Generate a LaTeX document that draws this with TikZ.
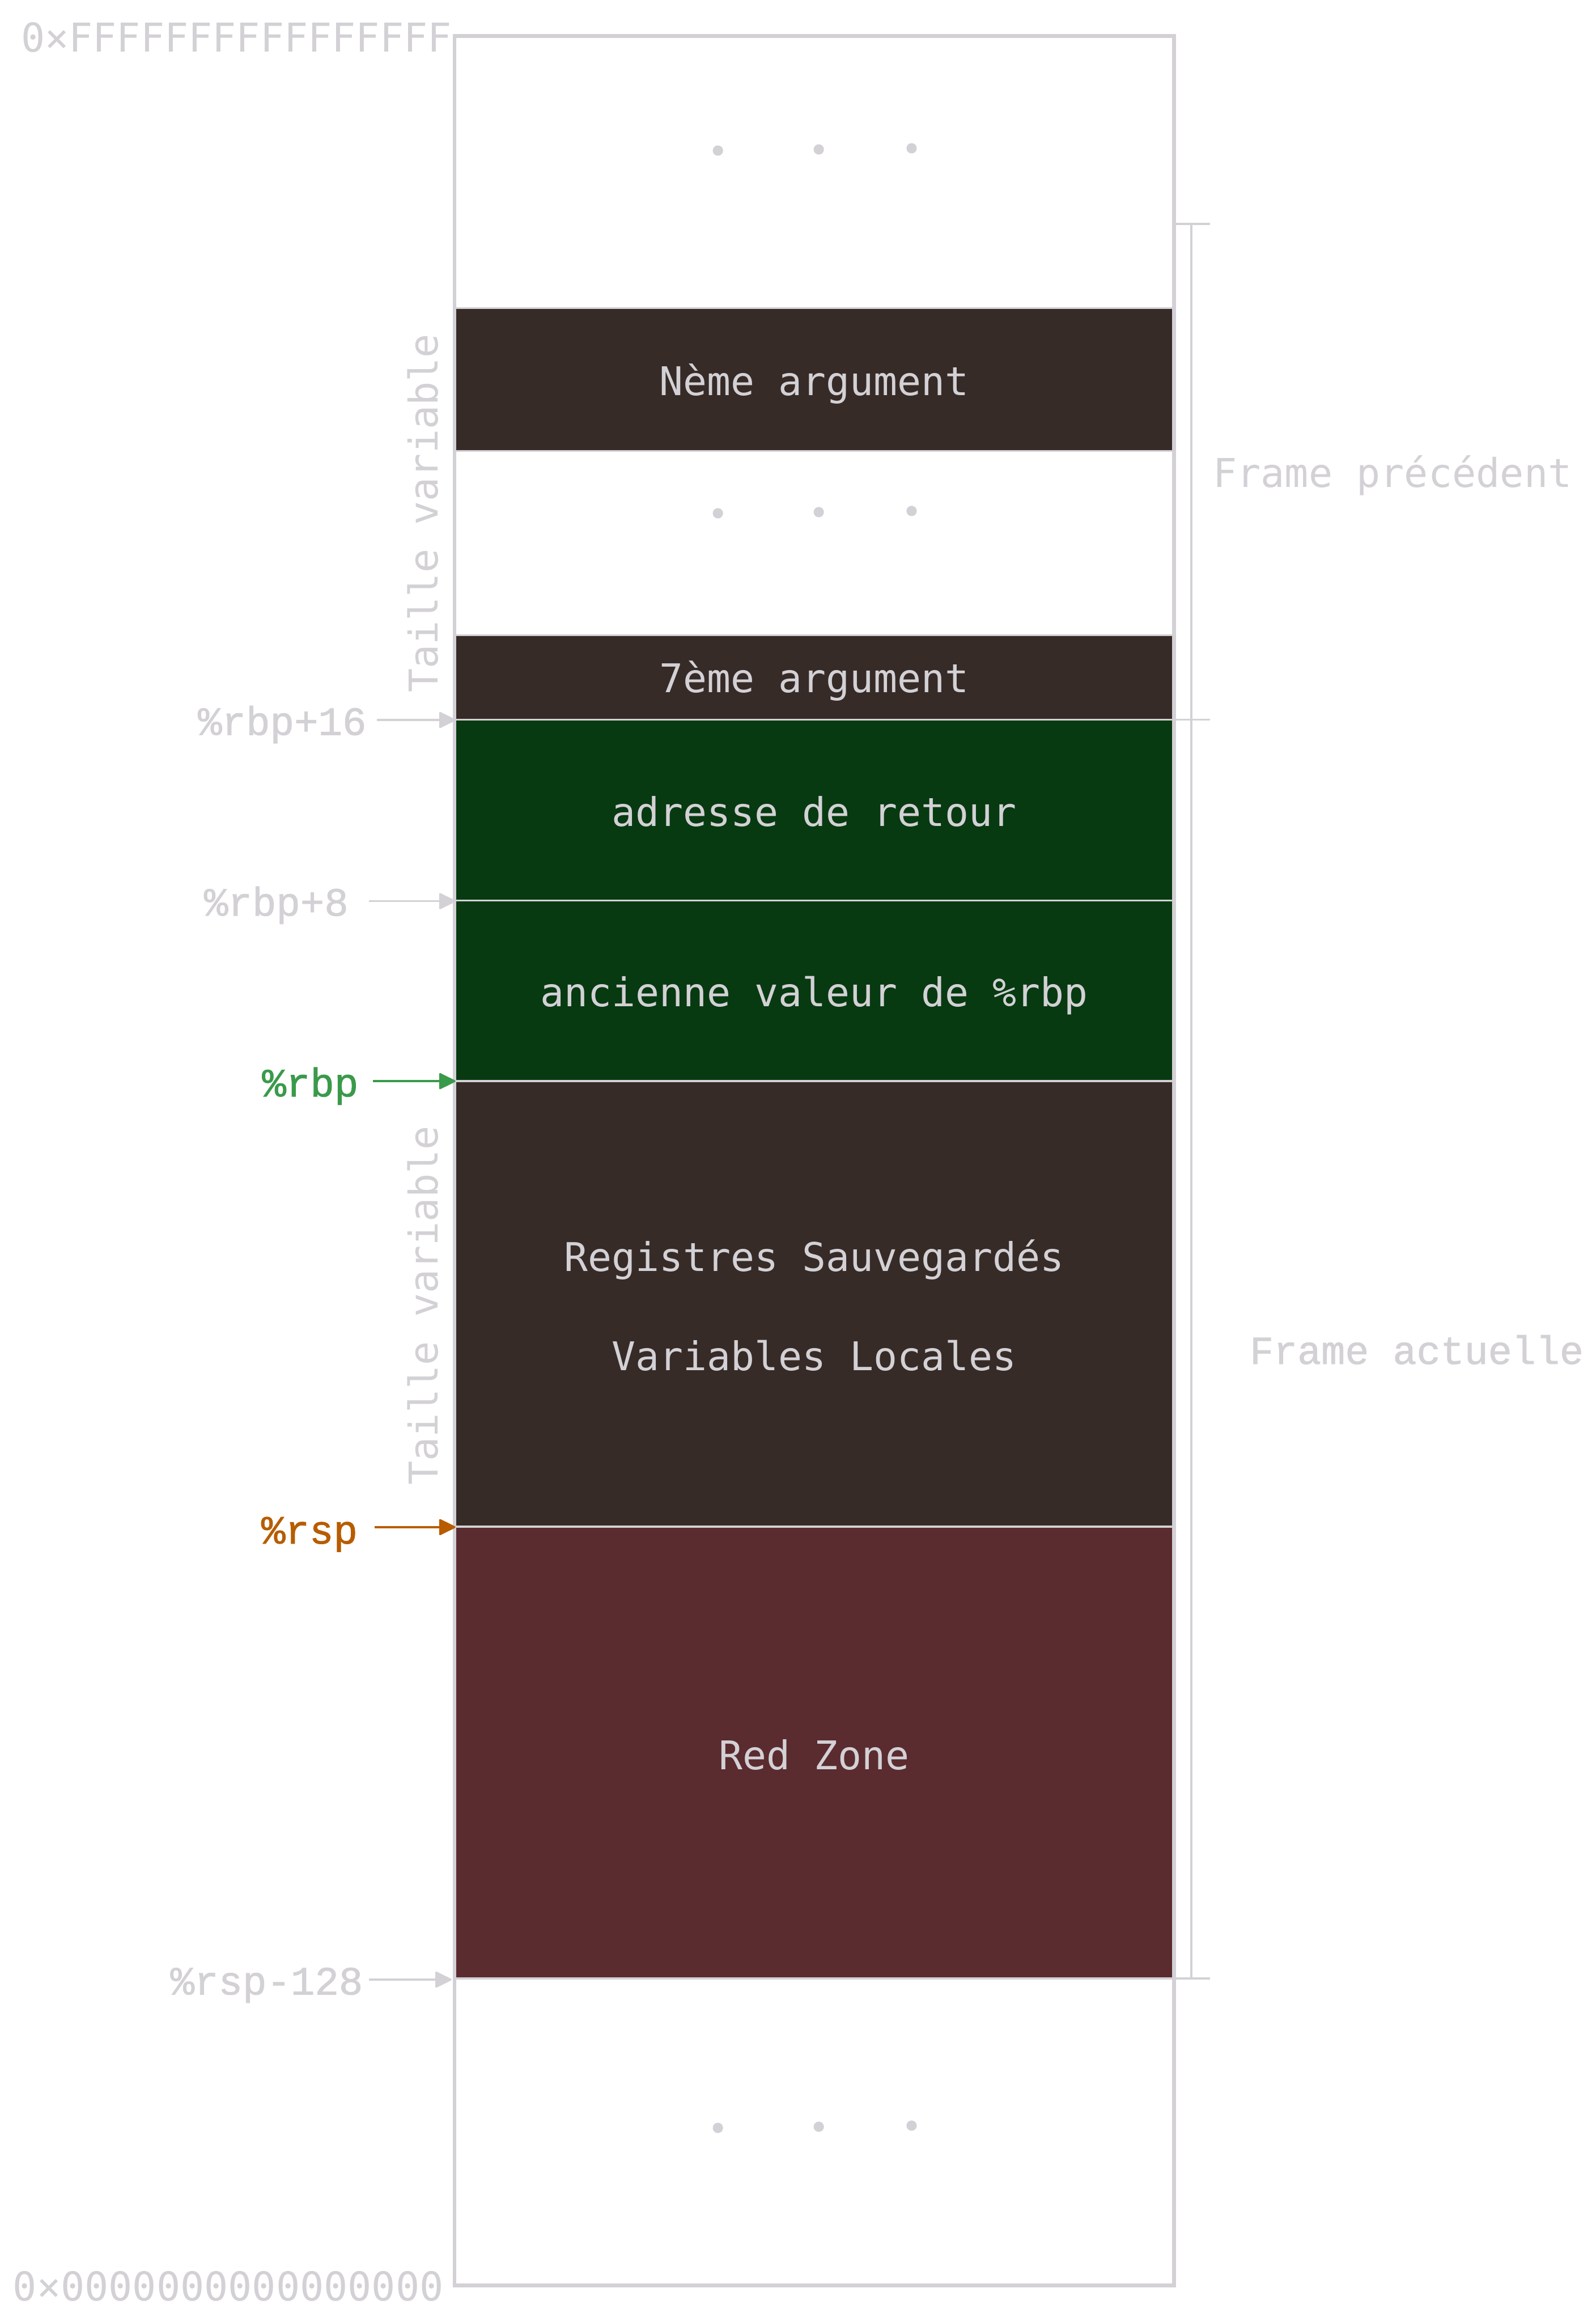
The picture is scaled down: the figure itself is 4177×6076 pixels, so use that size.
\documentclass[tikz,border=0pt]{standalone}
\usepackage{fontspec}
\setmainfont{DejaVu Sans Mono}
\newfontfamily\courfont[RawFeature={embolden=1.3}]{Liberation Mono}
\usetikzlibrary{arrows.meta}
\definecolor{lg}{RGB}{211,209,213}
\definecolor{brn}{RGB}{54,43,39}
\definecolor{grn}{RGB}{7,58,17}
\definecolor{rz}{RGB}{90,43,47}
\definecolor{gr}{RGB}{58,154,74}
\definecolor{org}{RGB}{184,92,0}
\tikzset{
  boxlabel/.style={anchor=base, inner sep=0pt, text=lg, font=\fontsize{10.35pt}{12pt}\selectfont},
  sidelabel/.style={inner sep=0pt, text=lg, font=\fontsize{10.4pt}{12pt}\selectfont},
  reglabel/.style={anchor=base east, inner sep=0pt, font=\courfont\fontsize{10.5pt}{12pt}\selectfont},
  ptr/.style={line width=0.5pt, -{Triangle[length=4.6pt,width=4.4pt,round]}},
  divline/.style={lg, line width=0.5pt},
  brk/.style={lg, line width=0.5pt},
  dotmark/.style={lg},
}
\begin{document}
\begin{tikzpicture}[x=0.1pt,y=-0.1pt]
\useasboundingbox (0,0) rectangle (4177,6076);
\fill[white] (0,0) rectangle (4177,6076);

% filled blocks
\fill[brn] (1190,806) rectangle (3073,1180);
\fill[brn] (1190,1662) rectangle (3073,1883);
\fill[grn] (1190,1883) rectangle (3073,2356);
\fill[grn] (1190,2356) rectangle (3073,2829);
\fill[brn] (1190,2829) rectangle (3073,3995);
\fill[rz] (1190,3995) rectangle (3073,5177);

% division lines
\foreach \yy in {806,1180,1662,1883,2356,2829,3995,5177}
  \draw[divline] (1190,\yy) -- (3073,\yy);

% outer frame
\draw[lg, line width=0.95pt] (1190,94) rectangle (3073,5980);

% named points on the frame
\coordinate (p16) at (1192,1884);
\coordinate (p8) at (1192,2358);
\coordinate (prbp) at (1192,2829);
\coordinate (prsp) at (1192,3996);
\coordinate (p128) at (1182,5180);

% dots
\foreach \yy in {394,1343,5568}{
  \fill[dotmark] (1879,\yy) circle (1.35pt);
  \fill[dotmark] (2143,\yy-3) circle (1.35pt);
  \fill[dotmark] (2386,\yy-6) circle (1.35pt);
}

% block labels
\node[boxlabel] (nth) at (2131,1034) {Nème argument};
\node[boxlabel] (sev) at (2131,1812) {7ème argument};
\node[boxlabel] (ret) at (2131,2162) {adresse de retour};
\node[boxlabel] (old) at (2131,2634) {ancienne valeur de \%rbp};
\node[boxlabel] (regs) at (2131,3326) {Registres Sauvegardés};
\node[boxlabel] (vars) at (2131,3586) {Variables Locales};
\node[boxlabel] (red) at (2131,4630) {Red Zone};

% address labels
\node[sidelabel, anchor=base east] (hi) at (1184,135) {0×FFFFFFFFFFFFFFFF};
\node[sidelabel, anchor=base east] (lo) at (1163,6021) {0×0000000000000000};

% size labels
\node[sidelabel, rotate=90, anchor=base] (tv1) at (1146,1343) {Taille variable};
\node[sidelabel, rotate=90, anchor=base] (tv2) at (1146,3416) {Taille variable};

% register labels and pointers
\node[reglabel, text=lg] (l16) at (961,1923) {\%rbp+16};
\node[reglabel, text=lg] (l8) at (914,2396) {\%rbp+8};
\node[reglabel, text=gr] (lrbp) at (940,2869) {\%rbp};
\node[reglabel, text=org] (lrsp) at (938,4039) {\%rsp};
\node[reglabel, text=lg] (l128) at (952,5219) {\%rsp-128};

\draw[ptr, lg, shorten <=2.6pt] (l16.east |- p16) -- (p16);
\draw[ptr, lg, shorten <=5.1pt] (l8.east |- p8) -- (p8);
\draw[ptr, gr, shorten <=3.6pt] (lrbp.east |- prbp) -- (prbp);
\draw[ptr, org, shorten <=4.2pt] (lrsp.east |- prsp) -- (prsp);
\draw[ptr, lg, shorten <=1.3pt] (l128.east |- p128) -- (p128);

% frame brackets
\coordinate (bt) at (3118,586);
\coordinate (bm) at (3118,1883);
\coordinate (bb) at (3118,5177);
\draw[brk] (bt) -- (bb);
\draw[brk] (3073,586) -- (3167,586);
\draw[brk] (3073,1883) -- (3167,1883);
\draw[brk] (3073,5177) -- (3167,5177);

\node[sidelabel, anchor=base west] (fp) at (3173,1275) {Frame précédent};
\node[sidelabel, anchor=base west, font=\courfont\fontsize{10.4pt}{12pt}\selectfont] (fa) at (3269,3569) {Frame actuelle};
\end{tikzpicture}
\end{document}
